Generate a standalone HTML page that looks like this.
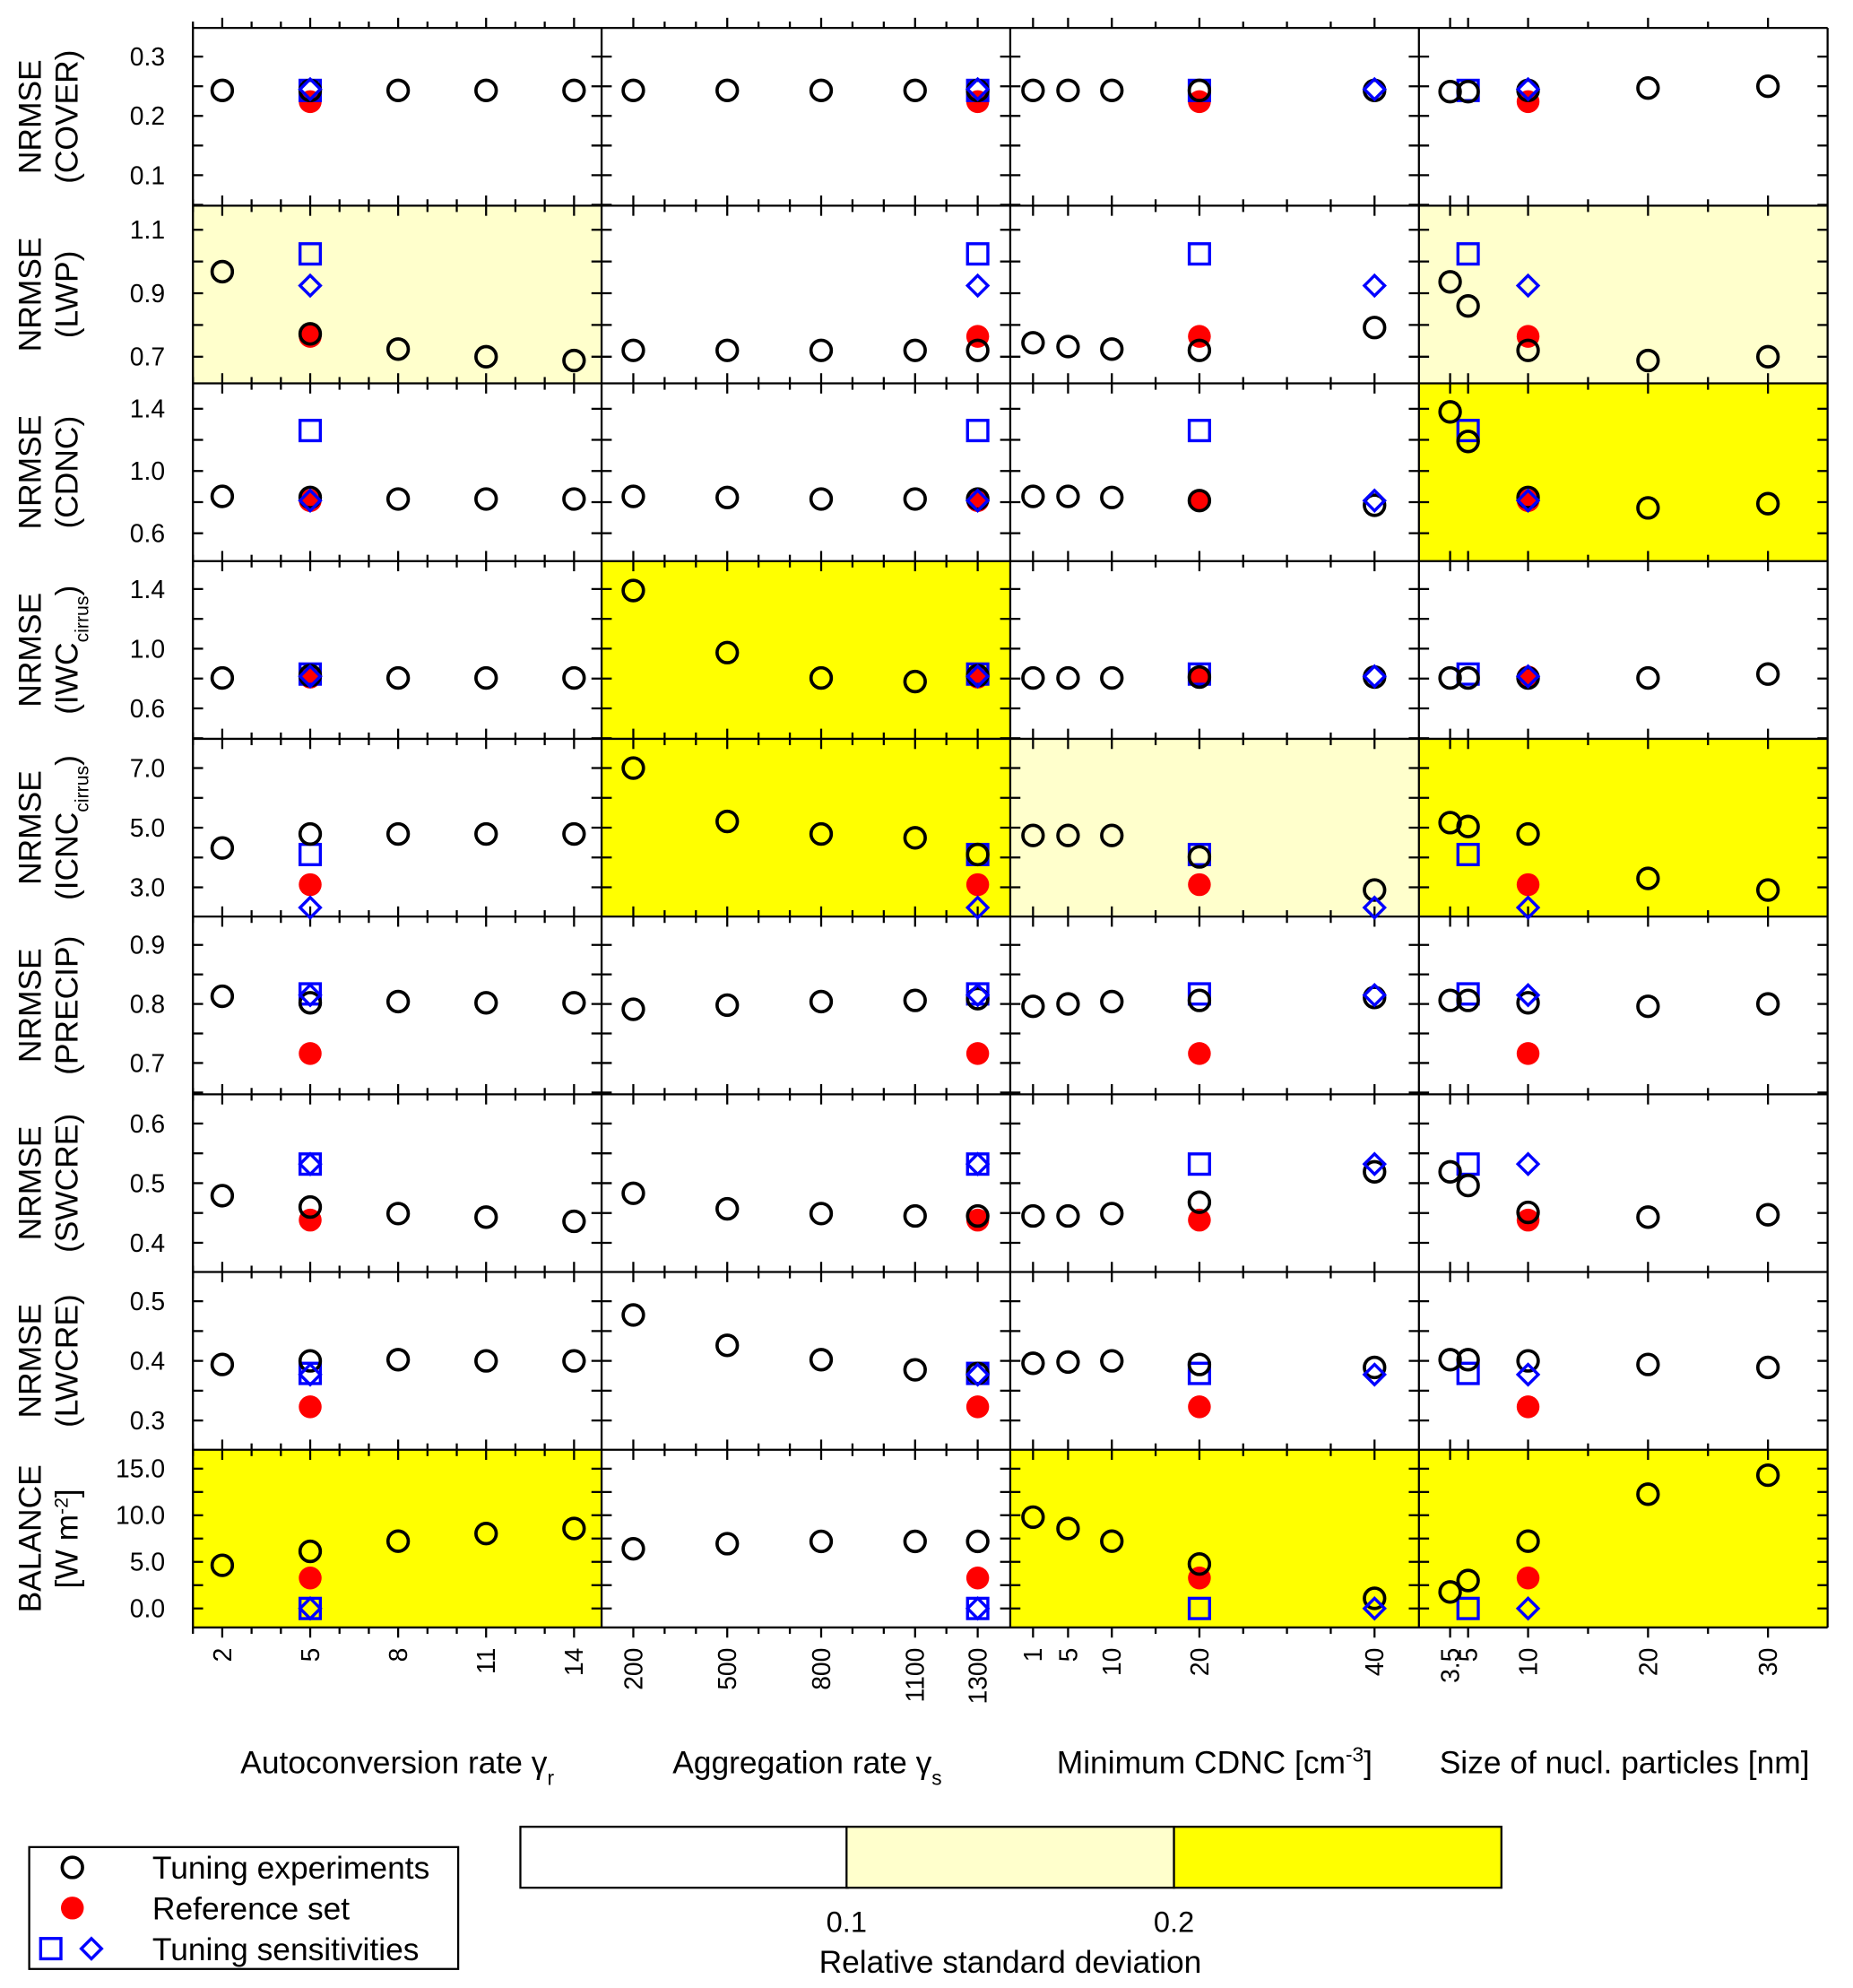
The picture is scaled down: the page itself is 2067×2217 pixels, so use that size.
<!DOCTYPE html>
<html><head><meta charset="utf-8"><style>
html,body{margin:0;padding:0;background:#fff}
svg{display:block}
text{font-family:"Liberation Sans",Arial,sans-serif;fill:#000}
</style></head><body>
<svg id="chart" width="2067" height="2217" viewBox="0 0 1460 1566" xmlns="http://www.w3.org/2000/svg"></svg>
<script>
// ---- data ----
const colNames = ["autoconversion","aggregation","min-cdnc","nucl-size"];
const colX = [[2,5,8,11,14],[200,500,800,1100,1300],[1,5,10,20,40],[3.5,5,10,20,30]];
const colXLabels = [["2","5","8","11","14"],["200","500","800","1100","1300"],["1","5","10","20","40"],["3.5","5","10","20","30"]];
const refX = [5,1300,20,10];
const sqX = [5,1300,20,5];
const diX = [5,1300,40,10];
const rowNames = ["cover","lwp","cdnc","iwc","icnc","precip","swcre","lwcre","balance"];
const rowLabelLine2 = ["(COVER)","(LWP)","(CDNC)","(IWC|cirrus|)","(ICNC|cirrus|)","(PRECIP)","(SWCRE)","(LWCRE)","[W m|-2|]"];
const rowTickLabels = [["0.1","0.2","0.3"],["0.7","0.9","1.1"],["0.6","1.0","1.4"],["0.6","1.0","1.4"],["3.0","5.0","7.0"],["0.7","0.8","0.9"],["0.4","0.5","0.6"],["0.3","0.4","0.5"],["0.0","5.0","10.0","15.0"]];
const rowTickStep = [0.05,0.1,0.2,0.2,1,0.05,0.05,0.05,2.5];
// 0 white, 1 light yellow, 2 yellow
const shading = [[0,0,0,0],[1,0,0,1],[0,0,0,2],[0,2,0,0],[0,2,1,2],[0,0,0,0],[0,0,0,0],[0,0,0,0],[2,0,2,2]];
// tuning experiments [row][col][i]
const circles = [
 [[0.243,0.243,0.243,0.243,0.243],[0.243,0.243,0.243,0.243,0.243],[0.243,0.243,0.243,0.243,0.243],[0.241,0.241,0.243,0.247,0.25]],
 [[0.968,0.772,0.724,0.70,0.688],[0.72,0.72,0.72,0.72,0.72],[0.744,0.732,0.724,0.72,0.792],[0.936,0.86,0.72,0.688,0.70]],
 [[0.837,0.83,0.82,0.82,0.82],[0.837,0.83,0.82,0.82,0.82],[0.837,0.837,0.83,0.81,0.78],[1.38,1.19,0.83,0.763,0.79]],
 [[0.804,0.82,0.804,0.804,0.804],[1.39,0.974,0.804,0.78,0.82],[0.804,0.804,0.804,0.81,0.81],[0.804,0.804,0.804,0.804,0.83]],
 [[4.32,4.79,4.79,4.79,4.79],[7.0,5.21,4.79,4.66,4.1],[4.74,4.74,4.74,4.02,2.91],[5.17,5.04,4.79,3.3,2.91]],
 [[0.813,0.802,0.804,0.802,0.802],[0.791,0.798,0.804,0.806,0.809],[0.796,0.8,0.804,0.806,0.811],[0.806,0.806,0.802,0.796,0.8]],
 [[0.479,0.46,0.449,0.443,0.436],[0.483,0.457,0.449,0.445,0.445],[0.445,0.445,0.449,0.468,0.519],[0.519,0.496,0.451,0.443,0.447]],
 [[0.394,0.4,0.402,0.4,0.4],[0.477,0.426,0.402,0.385,0.379],[0.396,0.398,0.4,0.394,0.389],[0.402,0.402,0.4,0.394,0.389]],
 [[4.63,6.13,7.22,8.04,8.58],[6.4,6.95,7.2,7.2,7.2],[9.8,8.58,7.22,4.77,1.09],[1.77,3.0,7.22,12.26,14.3]]
];
const refVals = [0.224,0.764,0.81,0.81,3.09,0.716,0.438,0.323,3.27];
const sqVals = [0.243,1.024,1.26,0.83,4.1,0.817,0.532,0.379,0];
const diVals = [0.245,0.924,0.81,0.815,2.32,0.815,0.532,0.377,0];
// ---- layout ----
const colEdges = [152,474,796,1118,1440];
const rowEdges = [22,162,302,442,582,722,862,1002,1142,1282];
const xDom = [[1.0,14.94],[98.7,1404],[-1.6,45.07],[0.9,34.97]];
const yDom = [[0.3484,0.0486],[1.176,0.616],[1.563,0.421],[1.587,0.396],[7.98,2.02],[0.948,0.647],[0.649,0.351],[0.549,0.251],[17.03,-2.04]];
const xMinor = [[1,2,3,4,5,6,7,8,9,10,11,12,13,14],[200,300,400,500,600,700,800,900,1000,1100,1200,1300],[1,5,10,15,20,25,30,35,40],[3.5,5,10,15,20,25,30]];
const fills = ["#ffffff","#ffffcc","#ffff00"];
const NS="http://www.w3.org/2000/svg";
const svg=document.getElementById('chart');
function el(t,a,p){const e=document.createElementNS(NS,t);for(const k in a)e.setAttribute(k,a[k]);(p||svg).appendChild(e);return e;}
function xs(c,v){const d=xDom[c];return colEdges[c]+(v-d[0])/(d[1]-d[0])*(colEdges[c+1]-colEdges[c]);}
function ys(r,v){const d=yDom[r];return rowEdges[r]+(d[0]-v)/(d[0]-d[1])*(rowEdges[r+1]-rowEdges[r]);}

for(let r=0;r<9;r++){
 for(let c=0;c<4;c++){
  const g=el('g',{});
  
  
  el('rect',{x:colEdges[c],y:rowEdges[r],width:colEdges[c+1]-colEdges[c],height:rowEdges[r+1]-rowEdges[r],fill:fills[shading[r][c]],stroke:'none'},g);
 }
}
const tk=el('g',{stroke:'#000','stroke-width':1.6,fill:'none'});


for(const x of colEdges) el('line',{x1:x,y1:rowEdges[0],x2:x,y2:rowEdges[9]},tk);
for(const y of rowEdges) el('line',{x1:colEdges[0],y1:y,x2:colEdges[4],y2:y},tk);
for(let c=0;c<4;c++){
 const maj=colX[c];
 for(const v of xMinor[c]){
  const x=xs(c,v); const L=maj.includes(v)?8:5;
  for(let i=0;i<rowEdges.length;i++){
   const y=rowEdges[i];
   const up=(i===0)?L:(i===9?0:L), dn=(i===9)?L:(i===0?0:L);
   el('line',{x1:x,y1:y-up,x2:x,y2:y+dn},tk);
  }
 }
}
for(let r=0;r<9;r++){
 const d=yDom[r],st=rowTickStep[r];
 const lo=Math.min(d[0],d[1]),hi=Math.max(d[0],d[1]);
 for(let v=Math.ceil(lo/st-1e-9)*st;v<=hi+1e-9;v+=st){
  const y=ys(r,v);
  for(let i=0;i<colEdges.length;i++){
   const x=colEdges[i];
   const l=(i===4)?0:8, rr=(i===0)?0:8;
   el('line',{x1:x-rr,y1:y,x2:x+l,y2:y},tk);
  }
 }
 for(const lab of rowTickLabels[r]){
  const t=el('text',{x:130,y:ys(r,parseFloat(lab))+7,'text-anchor':'end','font-size':20});
  t.textContent=lab;
  
  
 }
 const cy=(rowEdges[r]+rowEdges[r+1])/2;
 const t1=el('text',{transform:`translate(32,${cy}) rotate(-90)`,'text-anchor':'middle','font-size':25});
 t1.textContent=(r===8)?'BALANCE':'NRMSE';
 
 
 const t2=el('text',{transform:`translate(61,${cy}) rotate(-90)`,'text-anchor':'middle','font-size':25});
 
 
 const parts=rowLabelLine2[r].split('|');
 parts.forEach((p,i)=>{const s=el('tspan',{},t2);s.textContent=p;
  if(i===1){s.setAttribute('font-size',15);s.setAttribute('baseline-shift',r===8?'super':'sub');}});
}
for(let c=0;c<4;c++){
 colXLabels[c].forEach((lab,i)=>{
  const x=xs(c,colX[c][i]);
  const t=el('text',{transform:`translate(${x+7},1298) rotate(-90)`,'text-anchor':'end','font-size':20});
  t.textContent=lab;
  
  
 });
}
const xt=[[313,'Autoconversion rate γ','r'],[636,'Aggregation rate γ','s'],[957,'Minimum CDNC [cm','-3',']'],[1280,'Size of nucl. particles [nm]']];
xt.forEach((a,i)=>{
 const t=el('text',{x:a[0],y:1397,'text-anchor':'middle','font-size':25});
 
 
 const s1=el('tspan',{},t);s1.textContent=a[1];
 if(a[2]){const s2=el('tspan',{'font-size':16,'baseline-shift':i===2?'super':'sub'},t);s2.textContent=a[2];}
 if(a[3]){const s3=el('tspan',{},t);s3.textContent=a[3];}
});
function circ(x,y,p){return el('circle',{cx:x,cy:y,r:8,fill:'none',stroke:'#000','stroke-width':2.6},p);}
function red(x,y,p){return el('circle',{cx:x,cy:y,r:9,fill:'#ff0000',stroke:'none'},p);}
function sq(x,y,p){return el('rect',{x:x-8,y:y-8,width:16,height:16,fill:'none',stroke:'#0000ff','stroke-width':2.4},p);}
function dia(x,y,p){return el('polygon',{points:`${x},${y-8} ${x+8},${y} ${x},${y+8} ${x-8},${y}`,fill:'none',stroke:'#0000ff','stroke-width':2.4},p);}
for(let r=0;r<9;r++)for(let c=0;c<4;c++){
 const g=el('g',{});
 
 
 const m1=red(xs(c,refX[c]),ys(r,refVals[r]),g);
 
 
 const m2=sq(xs(c,sqX[c]),ys(r,sqVals[r]),g);
 
 
 circles[r][c].forEach((v,i)=>{
  const m=circ(xs(c,colX[c][i]),ys(r,v),g);
  
  
 });
 const m3=dia(xs(c,diX[c]),ys(r,diVals[r]),g);
 
 
}
const lg=el('g',{});


el('rect',{x:23,y:1455,width:338,height:96,fill:'#fff',stroke:'#000','stroke-width':1.6},lg);
circ(57,1471,lg);red(57,1503,lg);sq(40,1535,lg);dia(72,1535,lg);
[['Tuning experiments',1480],['Reference set',1512],['Tuning sensitivities',1544]].forEach(a=>{
 const t=el('text',{x:120,y:a[1],'font-size':25},lg);t.textContent=a[0];
 
 
});
const cb=el('g',{});


[[410,'#ffffff'],[667,'#ffffcc'],[925,'#ffff00']].forEach(a=>el('rect',{x:a[0],y:1439,width:258,height:48,fill:a[1],stroke:'#000','stroke-width':1.6},cb));
[['0.1',667],['0.2',925]].forEach(a=>{const t=el('text',{x:a[1],y:1522,'text-anchor':'middle','font-size':23},cb);t.textContent=a[0];
 
 });
const ct=el('text',{x:796,y:1554,'text-anchor':'middle','font-size':25},cb);ct.textContent='Relative standard deviation';


</script>
</body></html>
